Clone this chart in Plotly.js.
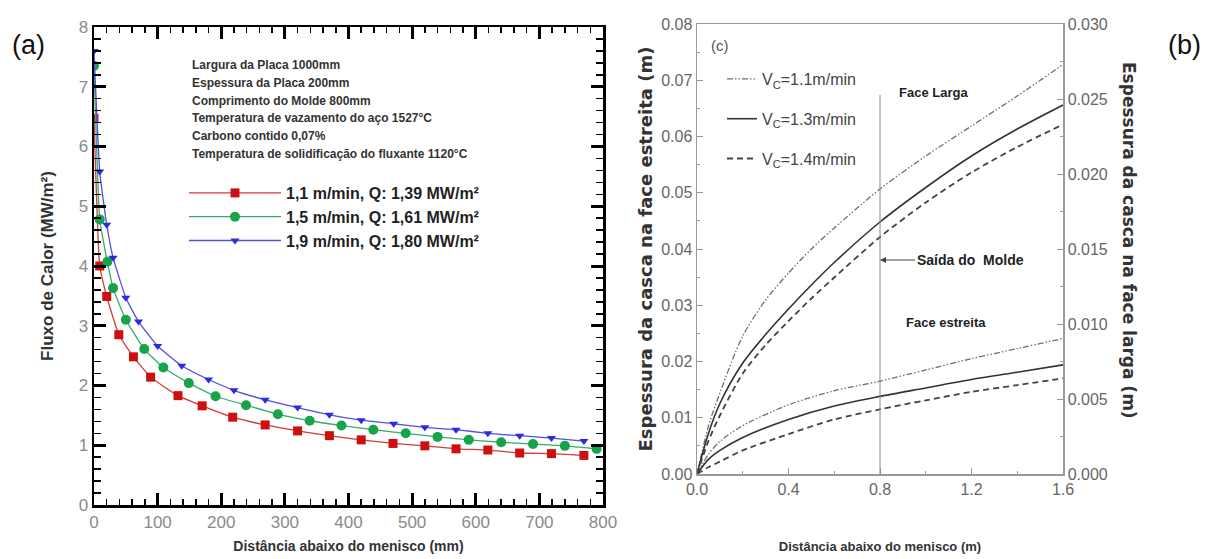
<!DOCTYPE html>
<html><head><meta charset="utf-8">
<script src="https://cdn.plot.ly/plotly-3.0.1.min.js"></script>
<style>html,body{margin:0;padding:0;background:#fff}#chart{width:1209px;height:559px}</style>
</head><body><div id="chart"></div>
<script>
// ---------- Panel (a): heat flux vs distance below meniscus ----------
const distA_11 = [0, 9, 20, 39, 62, 89, 132, 170, 218, 269, 320, 370, 420, 470, 520, 569, 619, 669, 719, 770];
const flux_11  = [6.47, 4.0, 3.49, 2.85, 2.48, 2.14, 1.83, 1.66, 1.47, 1.34, 1.24, 1.16, 1.09, 1.03, 0.99, 0.94, 0.92, 0.87, 0.86, 0.83];
const distA_15 = [0, 9, 21, 30, 50, 79, 109, 149, 191, 239, 289, 339, 389, 439, 490, 540, 589, 640, 690, 740, 790];
const flux_15  = [7.35, 4.78, 4.07, 3.63, 3.10, 2.61, 2.30, 2.04, 1.82, 1.67, 1.52, 1.41, 1.33, 1.26, 1.20, 1.14, 1.09, 1.05, 1.02, 0.99, 0.94];
const distA_19 = [0, 9, 20, 30, 50, 70, 100, 138, 180, 220, 269, 320, 370, 420, 471, 520, 569, 619, 669, 719, 770];
const flux_19  = [7.6, 5.58, 4.69, 4.14, 3.47, 3.07, 2.66, 2.33, 2.10, 1.92, 1.76, 1.63, 1.51, 1.42, 1.36, 1.30, 1.26, 1.20, 1.16, 1.12, 1.07];
const namesA = ['1,1 m/min, Q: 1,39 MW/m²', '1,5 m/min, Q: 1,61 MW/m²', '1,9 m/min, Q: 1,80 MW/m²'];
const paramsA = ['Largura da Placa 1000mm', 'Espessura da Placa 200mm', 'Comprimento do Molde 800mm',
  'Temperatura de vazamento do aço 1527°C', 'Carbono contido 0,07%', 'Temperatura de solidificação do fluxante 1120°C'];

// ---------- Panel (b): shell thickness vs distance below meniscus ----------
const distB_larga = [0, 0.05, 0.1, 0.2, 0.3, 0.4, 0.5, 0.6, 0.8, 1.0, 1.2, 1.4, 1.6];
const larga_11 = [0, 0.0032, 0.0054, 0.0092, 0.0116, 0.0134, 0.0150, 0.0164, 0.0190, 0.0212, 0.0232, 0.0252, 0.0273];
const larga_13 = [0, 0.0027, 0.0047, 0.0074, 0.0093, 0.0110, 0.0126, 0.0141, 0.0168, 0.0191, 0.0212, 0.0230, 0.0246];
const larga_14 = [0, 0.0022, 0.0039, 0.0067, 0.0086, 0.0102, 0.0117, 0.0131, 0.0158, 0.0181, 0.0201, 0.0218, 0.0233];
const distB_estreita = [0, 0.05, 0.1, 0.2, 0.4, 0.6, 0.8, 1.0, 1.2, 1.4, 1.6];
const estreita_11 = [0, 0.0035, 0.0058, 0.0086, 0.0123, 0.0148, 0.0165, 0.0185, 0.0205, 0.0223, 0.0241];
const estreita_13 = [0, 0.0026, 0.0042, 0.0065, 0.0097, 0.0121, 0.0138, 0.0153, 0.0168, 0.0181, 0.0194];
const estreita_14 = [0, 0.0012, 0.0022, 0.0042, 0.0071, 0.0097, 0.0115, 0.0131, 0.0146, 0.0158, 0.0170];
const namesB = ['V<sub>C</sub>=1.1m/min', 'V<sub>C</sub>=1.3m/min', 'V<sub>C</sub>=1.4m/min'];
const moldExit = 0.8;

const W = 1209, H = 559;
const px = v => v / W, py = v => 1 - v / H;

const stylesA = [
  {line: '#d63a3a', mk: '#cc1010', sym: 'square', size: 9},
  {line: '#35ad68', mk: '#16a34a', sym: 'circle', size: 10},
  {line: '#5050e6', mk: '#2b2be0', sym: 'triangle-down', size: 8}
];
const dataA = [[distA_11, flux_11], [distA_15, flux_15], [distA_19, flux_19]];
const traces = dataA.map((d, i) => ({
  type: 'scatter', mode: 'lines+markers', x: d[0], y: d[1], name: namesA[i],
  xaxis: 'x', yaxis: 'y', legend: 'legend', legendgroup: 'a' + i,
  line: {color: stylesA[i].line, width: 1.3, shape: 'spline', smoothing: 0.4},
  marker: {color: stylesA[i].mk, symbol: stylesA[i].sym, size: stylesA[i].size}
}));

const stylesB = [
  {color: '#6f6f6f', width: 1.3, dash: '6px,2px,1.5px,2px,1.5px,2px'},
  {color: '#333333', width: 1.6, dash: 'solid'},
  {color: '#444444', width: 1.8, dash: '6px,4px'}
];
const larga = [larga_11, larga_13, larga_14];
const estreita = [estreita_11, estreita_13, estreita_14];
larga.forEach((v, i) => traces.push({
  type: 'scatter', mode: 'lines', x: distB_larga, y: v, name: namesB[i],
  xaxis: 'x2', yaxis: 'y3', legend: 'legend2', legendgroup: 'b' + i,
  line: Object.assign({shape: 'spline', smoothing: 0.8}, stylesB[i])
}));
estreita.forEach((v, i) => traces.push({
  type: 'scatter', mode: 'lines', x: distB_estreita, y: v, name: namesB[i],
  xaxis: 'x2', yaxis: 'y2', legend: 'legend2', legendgroup: 'b' + i, showlegend: false,
  line: Object.assign({shape: 'spline', smoothing: 0.8}, stylesB[i])
}));

const SANS = 'Liberation Sans, Arial, sans-serif';
const tickA = {family: SANS, size: 17, color: '#8a8a8a'};
const tickB = {family: SANS, size: 16, color: '#666'};
const annot = (text, x, y, font, extra) => Object.assign({
  text: text, x: px(x), y: py(y), xref: 'paper', yref: 'paper', xanchor: 'center', yanchor: 'middle',
  showarrow: false, font: font}, extra || {});

const annotations = [
  annot('(a)', 28, 45, {family: SANS, size: 27, color: '#111'}),
  annot('(b)', 1184, 45, {family: SANS, size: 27, color: '#111'}),
  annot('(c)', 720, 46, {family: SANS, size: 15, color: '#555'}),
  annot('Face Larga', 933, 93, {family: SANS, size: 13, color: '#222', weight: 'bold'}),
  annot('Face estreita', 946, 322, {family: SANS, size: 13, color: '#222', weight: 'bold'}),
  {text: 'Saída do  Molde', x: moldExit, xref: 'x2', y: py(260), yref: 'paper', ax: 90, ay: 0,
   xanchor: 'center', yanchor: 'middle',
   showarrow: true, arrowhead: 2, arrowsize: 1, arrowwidth: 1.2, arrowcolor: '#444', standoff: 0,
   font: {family: SANS, size: 14, color: '#222', weight: 'bold'}},
  annot('Espessura da casca na face larga (m)', 1129, 240,
   {family: 'DejaVu Sans, sans-serif', size: 17, color: '#333', weight: 'bold'}, {textangle: 90})
];
paramsA.forEach((t, i) => annotations.push(annot(t, 190, 65 + i * 17.8,
  {family: SANS, size: 12, color: '#333', weight: 'bold'}, {xanchor: 'left'})));

const layout = {
  width: W, height: H, margin: {l: 0, r: 0, t: 0, b: 0},
  paper_bgcolor: '#fff', plot_bgcolor: '#fff',
  xaxis: {domain: [px(94), px(603)], range: [0, 800], anchor: 'y', dtick: 100, tick0: 0,
    showgrid: false, zeroline: false, showline: true, linecolor: '#000', linewidth: 2.5, mirror: 'allticks',
    ticks: 'inside', ticklen: 12, tickwidth: 3, tickcolor: '#000',
    minor: {dtick: 20, ticks: 'inside', ticklen: 6, tickwidth: 1.5, tickcolor: '#000', showgrid: false},
    tickfont: tickA,
    title: {text: 'Distância abaixo do menisco (mm)', font: {family: SANS, size: 14, color: '#333', weight: 'bold'}, standoff: 11}},
  yaxis: {domain: [py(505), py(27)], range: [0, 8], anchor: 'x', dtick: 1, tick0: 0,
    showgrid: false, zeroline: false, showline: true, linecolor: '#000', linewidth: 2.5, mirror: 'allticks',
    ticks: 'inside', ticklen: 12, tickwidth: 3, tickcolor: '#000',
    minor: {dtick: 0.2, ticks: 'inside', ticklen: 7, tickwidth: 1.5, tickcolor: '#000', showgrid: false},
    tickfont: tickA,
    title: {text: 'Fluxo de Calor (MW/m²)', font: {family: SANS, size: 17, color: '#333', weight: 'bold'}, standoff: 21}},
  xaxis2: {domain: [px(697), px(1063)], range: [0, 1.6], anchor: 'y2', dtick: 0.4, tick0: 0, tickformat: '.1f',
    showgrid: false, zeroline: false, showline: true, linecolor: '#999', linewidth: 1.5, mirror: true,
    ticks: 'inside', ticklen: 6, tickwidth: 1, tickcolor: '#999',
    minor: {dtick: 0.2, ticks: 'inside', ticklen: 3, tickwidth: 1, tickcolor: '#999', showgrid: false},
    tickfont: tickB,
    title: {text: 'Distância abaixo do menisco (m)', font: {family: SANS, size: 13, color: '#333', weight: 'bold'}, standoff: 45}},
  yaxis2: {domain: [py(474), py(24)], range: [0, 0.08], anchor: 'x2', dtick: 0.01, tick0: 0, tickformat: '.2f',
    showgrid: false, zeroline: false, showline: true, linecolor: '#999', linewidth: 1.5,
    ticks: 'inside', ticklen: 6, tickwidth: 1, tickcolor: '#999',
    minor: {dtick: 0.005, ticks: 'inside', ticklen: 3, tickwidth: 1, tickcolor: '#999', showgrid: false},
    tickfont: tickB,
    title: {text: 'Espessura da casca na face estreita (m)', font: {family: 'DejaVu Sans, sans-serif', size: 18, color: '#333', weight: 'bold'}, standoff: 4}},
  yaxis3: {overlaying: 'y2', side: 'right', anchor: 'x2', range: [0, 0.03], dtick: 0.005, tick0: 0, tickformat: '.3f',
    showgrid: false, zeroline: false, showline: true, linecolor: '#999', linewidth: 1.5,
    ticks: 'inside', ticklen: 6, tickwidth: 1, tickcolor: '#999',
    minor: {dtick: 0.0025, ticks: 'inside', ticklen: 3, tickwidth: 1, tickcolor: '#999', showgrid: false},
    tickfont: tickB},
  legend: {x: px(184), y: py(176), xanchor: 'left', yanchor: 'top', bgcolor: 'rgba(0,0,0,0)',
    itemwidth: 92, tracegroupgap: 0,
    font: {family: SANS, size: 16, color: '#222', weight: 'bold'}},
  legend2: {x: px(722), y: py(62), xanchor: 'left', yanchor: 'top', bgcolor: 'rgba(0,0,0,0)',
    tracegroupgap: 16,
    font: {family: SANS, size: 16, color: '#444'}},
  shapes: [{type: 'line', xref: 'x2', yref: 'paper', x0: moldExit, x1: moldExit, y0: py(474), y1: py(95),
    line: {color: '#888', width: 1}}],
  annotations: annotations
};

Plotly.newPlot('chart', traces, layout, {displayModeBar: false, staticPlot: true});
</script>
</body></html>
